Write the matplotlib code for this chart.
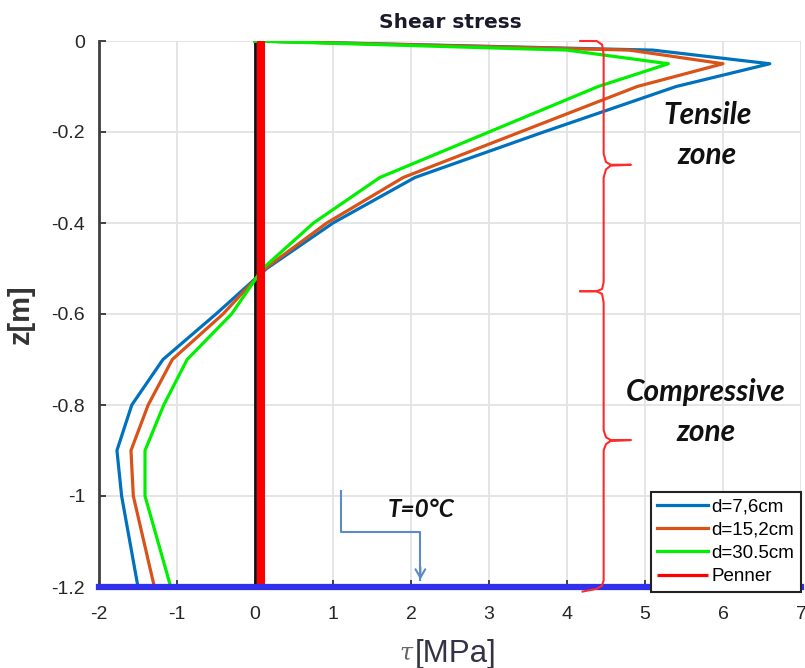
import matplotlib
matplotlib.use("Agg")
import matplotlib.pyplot as plt

# ---------------- data ----------------
depth = [0, -0.02, -0.05, -0.1, -0.2, -0.3, -0.4, -0.5, -0.6, -0.7, -0.8, -0.9, -1.0, -1.2]
tau_d76 = [0, 5.1, 6.6, 5.4, 3.7, 2.05, 1.0, 0.15, -0.5, -1.18, -1.58, -1.77, -1.71, -1.5]
tau_d152 = [0, 4.8, 6.0, 4.9, 3.4, 1.9, 0.92, 0.13, -0.41, -1.06, -1.37, -1.59, -1.56, -1.29]
tau_d305 = [0, 4.0, 5.3, 4.4, 3.0, 1.6, 0.75, 0.1, -0.3, -0.87, -1.17, -1.41, -1.41, -1.08]
penner_depth = [0, -1.2]
penner_tau = [0.08, 0.08]
frost_depth = -1.2

series_labels = ["d=7,6cm", "d=15,2cm", "d=30.5cm", "Penner"]
series_colors = ["#0072BD", "#D95319", "#00F000", "#FF0000"]
x_ticks = [-2, -1, 0, 1, 2, 3, 4, 5, 6, 7]
y_ticks = [0, -0.2, -0.4, -0.6, -0.8, -1.0, -1.2]
y_ticklabels = ["0", "-0.2", "-0.4", "-0.6", "-0.8", "-1", "-1.2"]

# annotation geometry (braces, arrow)
brace1_x = [4.17, 4.38, 4.45, 4.47, 4.47, 4.50, 4.56, 4.82, 4.56, 4.50, 4.47, 4.47, 4.45, 4.38, 4.17]
brace1_y = [0.0, 0.0, -0.008, -0.03, -0.248, -0.266, -0.272, -0.272, -0.274, -0.282, -0.30, -0.53, -0.545, -0.55, -0.55]
brace2_x = [4.17, 4.38, 4.45, 4.47, 4.47, 4.50, 4.56, 4.82, 4.56, 4.50, 4.47, 4.47, 4.45, 4.38, 4.2]
brace2_y = [-0.55, -0.55, -0.556, -0.575, -0.855, -0.871, -0.877, -0.877, -0.879, -0.886, -0.90, -1.185, -1.197, -1.204, -1.21]
arrow_x = [1.10, 1.10, 2.12, 2.12]
arrow_y = [-0.99, -1.079, -1.079, -1.19]

plt.rcParams["axes.unicode_minus"] = False
fig = plt.figure(figsize=(8.05, 6.68), dpi=100)
ax = fig.add_axes([99 / 805, 1 - 587 / 668, (801 - 99) / 805, (587 - 41) / 668])

# grid
ax.set_axisbelow(True)
ax.grid(True, color="#e3e3e3", linewidth=1.3)

# zero line beneath Penner
ax.axvline(0, color="#111111", linewidth=2.0, zorder=2)

lines = []
for vals, lab, col in zip([tau_d76, tau_d152, tau_d305], series_labels[:3], series_colors[:3]):
    l, = ax.plot(vals, depth, color=col, linewidth=2.3, label=lab, zorder=3)
    lines.append(l)
lp, = ax.plot(penner_tau, penner_depth, color=series_colors[3], linewidth=5.8,
              label=series_labels[3], zorder=4, solid_capstyle="butt")
lines.append(lp)

# frost line
ax.axhline(frost_depth, color="#3030ee", linewidth=4.5, zorder=5, clip_on=False)

# braces
ax.plot(brace1_x, brace1_y, color="#ff2a2a", linewidth=1.5, zorder=6, clip_on=False)
ax.plot(brace2_x, brace2_y, color="#ff2a2a", linewidth=1.5, zorder=6, clip_on=False)

# arrow to T=0°C
ax.plot(arrow_x[:-1] + [arrow_x[-1]], arrow_y[:-1] + [arrow_y[-1] + 0.005],
        color="#5b8ac6", linewidth=1.5, zorder=6)
ax.annotate("", xy=(arrow_x[-1], arrow_y[-1]), xytext=(arrow_x[-1], arrow_y[-1] + 0.04),
            arrowprops=dict(arrowstyle="->,head_length=0.6,head_width=0.35",
                            color="#5b8ac6", lw=1.5), zorder=6)

zone_font = dict(family=["Lato", "DejaVu Sans"], fontweight="bold", fontstyle="italic",
                 color="#111111", fontsize=21.5, ha="center", va="center")
ax.text(5.8, -0.163, "Tensile", **zone_font)
ax.text(5.8, -0.25, "zone", **zone_font)
ax.text(5.78, -0.772, "Compressive", **zone_font)
ax.text(5.78, -0.86, "zone", **zone_font)
ax.text(2.13, -1.03, "T=0°C", family=["Lato", "DejaVu Sans"], fontweight="bold",
        fontstyle="italic", color="#111111", fontsize=17.5, ha="center", va="center")

ax.set_xlim(-2, 7)
ax.set_ylim(-1.2, 0)
ax.set_xticks(x_ticks)
ax.set_xticklabels([str(t) for t in x_ticks])
ax.set_yticks(y_ticks)
ax.set_yticklabels(y_ticklabels)
for lab in ax.get_xticklabels() + ax.get_yticklabels():
    lab.set_family(["Liberation Sans", "DejaVu Sans"])
    lab.set_fontsize(14)
    lab.set_color("#262626")
ax.tick_params(axis="x", direction="in", length=5, width=1.2, pad=14, colors="#262626")
ax.tick_params(axis="y", direction="in", length=5, width=1.2, pad=10, colors="#262626")

for s in ["top", "right"]:
    ax.spines[s].set_visible(False)
for s in ["left", "bottom"]:
    ax.spines[s].set_color("#404040")
    ax.spines[s].set_linewidth(2)

ax.set_title("Shear stress", fontsize=14.5, color="#1a1a2a", pad=9, fontweight="bold",
             family=["DejaVu Sans"])
ax.set_ylabel("z[m]", fontsize=21, fontweight="bold", color="#333333",
              family=["Liberation Sans", "DejaVu Sans"], labelpad=12)

fig.text(415 / 805, 1 - 662 / 668, "[MPa]", fontsize=22.5, color="#333344",
         family=["Liberation Sans", "DejaVu Sans"], ha="left", va="baseline")
fig.text(413 / 805, 1 - 660 / 668, "τ", fontsize=17, color="#666666",
         family=["DejaVu Serif"], fontstyle="italic", ha="right", va="baseline")

leg = ax.legend(handles=lines, loc="lower right", bbox_to_anchor=(1.0, -0.009),
                borderaxespad=0, fancybox=False, framealpha=1, edgecolor="#222222",
                prop={"family": ["Liberation Sans", "DejaVu Sans"], "size": 13.5},
                handlelength=2.7, handletextpad=0.2, labelspacing=0.33, borderpad=0.35)
leg.get_frame().set_linewidth(1.5)
leg.set_zorder(10)
for l in leg.get_lines():
    l.set_linewidth(2.3)

fig.savefig("out.png", dpi=100)
